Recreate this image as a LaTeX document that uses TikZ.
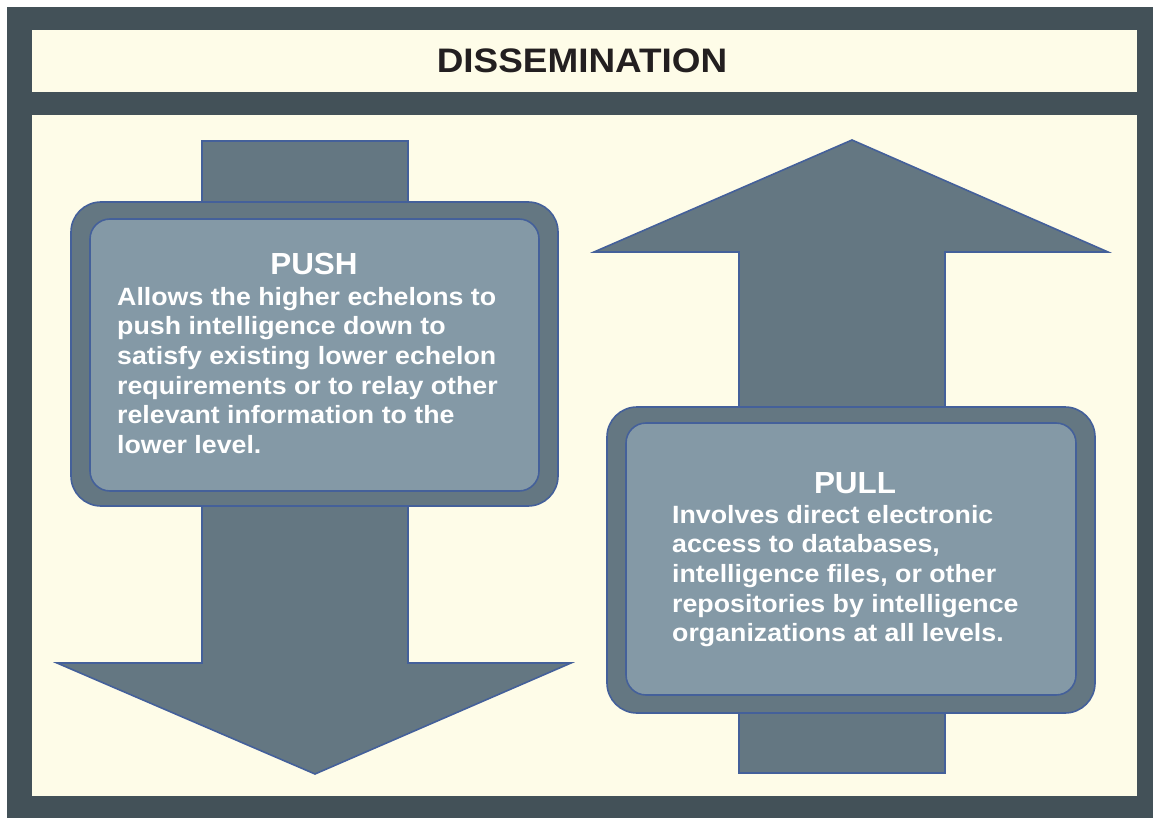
\documentclass[tikz,border=0pt]{standalone}
\usepackage{fontspec}
\setmainfont{Liberation Sans}
\newfontfamily\bodyfont[FakeStretch=1.07]{Liberation Sans}
\newfontfamily\titlefont[FakeStretch=1.085]{Liberation Sans}
\newfontfamily\headfont[FakeStretch=1.03]{Liberation Sans}
\definecolor{frameC}{HTML}{435158}
\definecolor{creamC}{HTML}{FEFCE8}
\definecolor{arrowC}{HTML}{647782}
\definecolor{boxC}{HTML}{8499A6}
\definecolor{lineC}{HTML}{44609A}
\definecolor{titleC}{HTML}{231F20}
\begin{document}
\begin{tikzpicture}[x=1pt,y=-1pt,
  shapeS/.style={fill=arrowC,draw=lineC,line width=1.6pt,line join=miter},
  outerbox/.style={fill=arrowC,draw=lineC,line width=1.6pt,rounded corners=30pt},
  innerbox/.style={fill=boxC,draw=lineC,line width=1.6pt,rounded corners=20pt},
  headtxt/.style={text=white,font=\headfont\bfseries\fontsize{30.5}{34}\selectfont,inner sep=0pt},
  bodytxt/.style={text=white,font=\bodyfont\bfseries\fontsize{25}{29.6}\selectfont,inner sep=0pt,align=left,anchor=north west}]
\useasboundingbox (0,0) rectangle (1153,818);
\fill[white] (0,0) rectangle (1153,818);
\fill[frameC] (7,7) rectangle (1153,818);
\fill[creamC] (32,30) rectangle (1137,92);
\fill[creamC] (32,115) rectangle (1137,796);
\node[text=titleC,font=\titlefont\bfseries\fontsize{34}{40}\selectfont,inner sep=0pt,anchor=base] (title) at (582,73) {DISSEMINATION};
% push arrow
\draw[shapeS] (202,141) -- (408,141) -- (408,663) -- (571,663) -- (315,774) -- (57,663) -- (202,663) -- cycle;
\draw[outerbox] (71,202) rectangle (558,506);
\draw[innerbox] (90,219) rectangle (539,491);
\node[headtxt,anchor=base] (pushT) at (314,274) {PUSH};
\node[bodytxt] (pushB) at (117,287) {Allows the higher echelons to\\push intelligence down to\\satisfy existing lower echelon\\requirements or to relay other\\relevant information to the\\lower level.};
% pull arrow
\draw[shapeS] (852,140) -- (1108,252) -- (945,252) -- (945,773) -- (739,773) -- (739,252) -- (594,252) -- cycle;
\draw[outerbox] (607,407) rectangle (1095,713);
\draw[innerbox] (626,423) rectangle (1076,695);
\node[headtxt,anchor=base] (pullT) at (855,493) {PULL};
\node[bodytxt] (pullB) at (672,505) {Involves direct electronic\\access to databases,\\intelligence files, or other\\repositories by intelligence\\organizations at all levels.};
\end{tikzpicture}
\end{document}
